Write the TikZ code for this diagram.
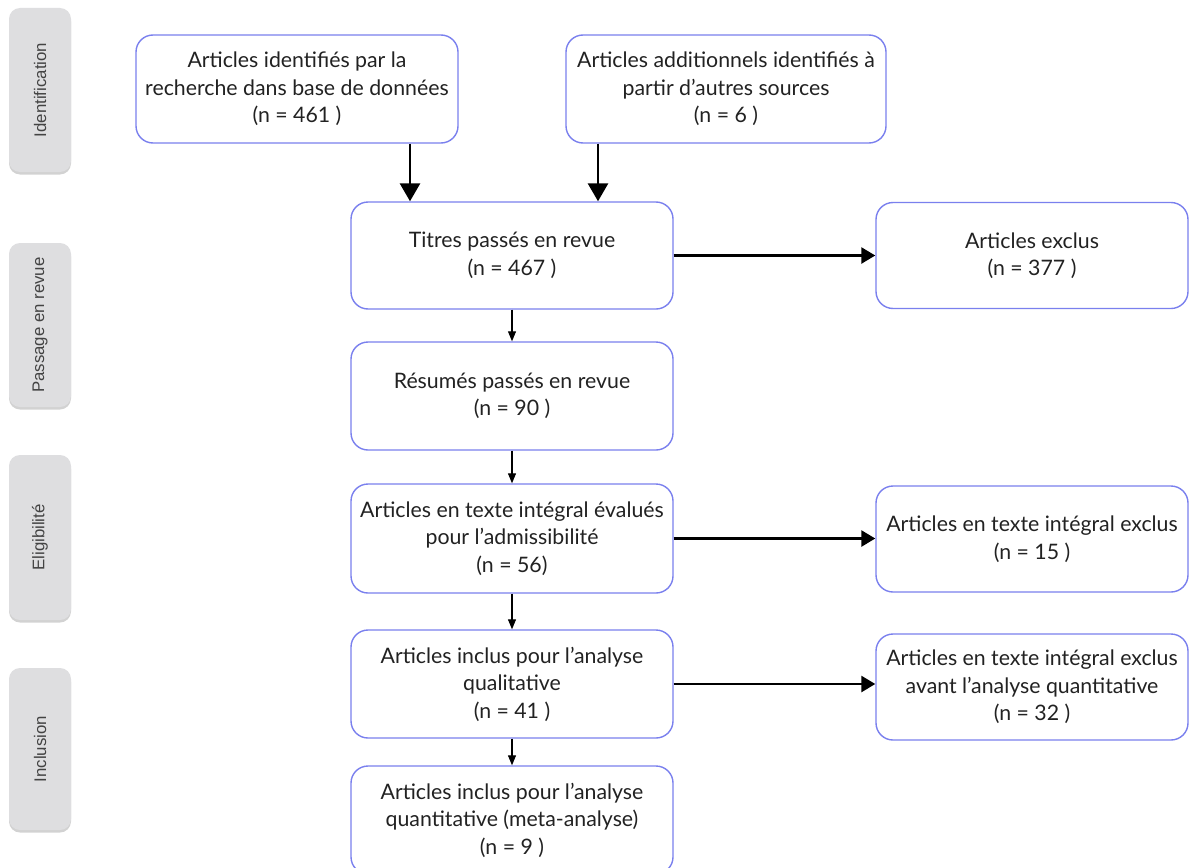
\documentclass[tikz,border=0pt]{standalone}
\usepackage{fontspec}
\setmainfont{Lato}
\newfontfamily\labfont{Liberation Sans}
\usetikzlibrary{arrows.meta,shadows,calc}
\definecolor{boxblue}{RGB}{122,128,238}
\definecolor{labgray}{RGB}{222,222,224}
\definecolor{txt}{RGB}{34,34,34}
\tikzset{
  flowbox/.style={draw=boxblue, line width=1.4pt, rounded corners=17pt, fill=white,
    align=center, text=txt, inner sep=2pt,
    font=\fontsize{21.3}{27.5}\selectfont},
  sidelab/.style={fill=labgray, rounded corners=11pt, minimum width=62pt,
    drop shadow={shadow xshift=0pt, shadow yshift=-2.5pt, opacity=0.35, fill=gray},
    text=txt!85, font=\labfont\fontsize{16.8}{18}\selectfont},
  bigarrow/.style={line width=2.8pt, -{Triangle[width=20pt,length=18pt]}},
  sidearrow/.style={line width=2.6pt, -{Triangle[width=16pt,length=14pt]}},
  smallarrow/.style={line width=1.1pt, -{Triangle[width=8pt,length=10pt]}}
}
\begin{document}
\begin{tikzpicture}[x=1pt,y=-1pt]
\path[use as bounding box] (0,0) rectangle (1190,867);
\clip (0,0) rectangle (1190,867);
\fill[white] (0,0) rectangle (1190,867);
% side labels
\node[sidelab, minimum height=164pt] (L1) at (40,90) {\rotatebox{90}{Identification}};
\node[sidelab, minimum height=164pt] (L2) at (40,325) {\rotatebox{90}{Passage en revue}};
\node[sidelab, minimum height=165pt] (L3) at (40,537.5) {\rotatebox{90}{Eligibilité}};
\node[sidelab, minimum height=162pt] (L4) at (40,749) {\rotatebox{90}{Inclusion}};
% main boxes
\node[flowbox, minimum width=322pt, minimum height=108pt] (B1) at (297,89)
  {Articles identifiés par la\\recherche dans base de données\\(n = 461 )};
\node[flowbox, minimum width=320pt, minimum height=108pt] (B2) at (726,89)
  {Articles additionnels identifiés à\\partir d’autres sources\\(n = 6 )};
\node[flowbox, minimum width=322pt, minimum height=107pt] (B3) at (512,255.5)
  {Titres passés en revue\\(n = 467 )};
\node[flowbox, minimum width=322pt, minimum height=108pt] (B4) at (512,396)
  {Résumés passés en revue\\(n = 90 )};
\node[flowbox, minimum width=322pt, minimum height=109pt] (B5) at (512,538.5)
  {Articles en texte intégral évalués\\pour l’admissibilité\\(n = 56)};
\node[flowbox, minimum width=322pt, minimum height=108pt] (B6) at (512,684)
  {Articles inclus pour l’analyse\\qualitative\\(n = 41 )};
\node[flowbox, minimum width=322pt, minimum height=108pt] (B7) at (512,820)
  {Articles inclus pour l’analyse\\quantitative (meta-analyse)\\(n = 9 )};
\node[flowbox, minimum width=312pt, minimum height=106pt] (E1) at (1032,255.5)
  {Articles exclus\\(n = 377 )};
\node[flowbox, minimum width=312pt, minimum height=106pt] (E2) at (1032,539)
  {Articles en texte intégral exclus\\(n = 15 )};
\node[flowbox, minimum width=312pt, minimum height=106pt] (E3) at (1032,687)
  {Articles en texte intégral exclus\\avant l’analyse quantitative\\(n = 32 )};
% connectors
\coordinate (a1) at (410,0);
\coordinate (a2) at (598,0);
\draw[bigarrow] (a1 |- B1.south) -- (a1 |- B3.north);
\draw[bigarrow] (a2 |- B2.south) -- (a2 |- B3.north);
\draw[sidearrow] (B3.east) -- (E1.west);
\draw[sidearrow] (B5.east) -- (B5.east -| E2.west);
\draw[sidearrow] (B6.east) -- (B6.east -| E3.west);
\draw[smallarrow] (B3.south) -- (B4.north);
\draw[smallarrow] (B4.south) -- (B5.north);
\draw[smallarrow] (B5.south) -- (B6.north);
\draw[smallarrow] (B6.south) -- (B7.north);
\end{tikzpicture}
\end{document}
